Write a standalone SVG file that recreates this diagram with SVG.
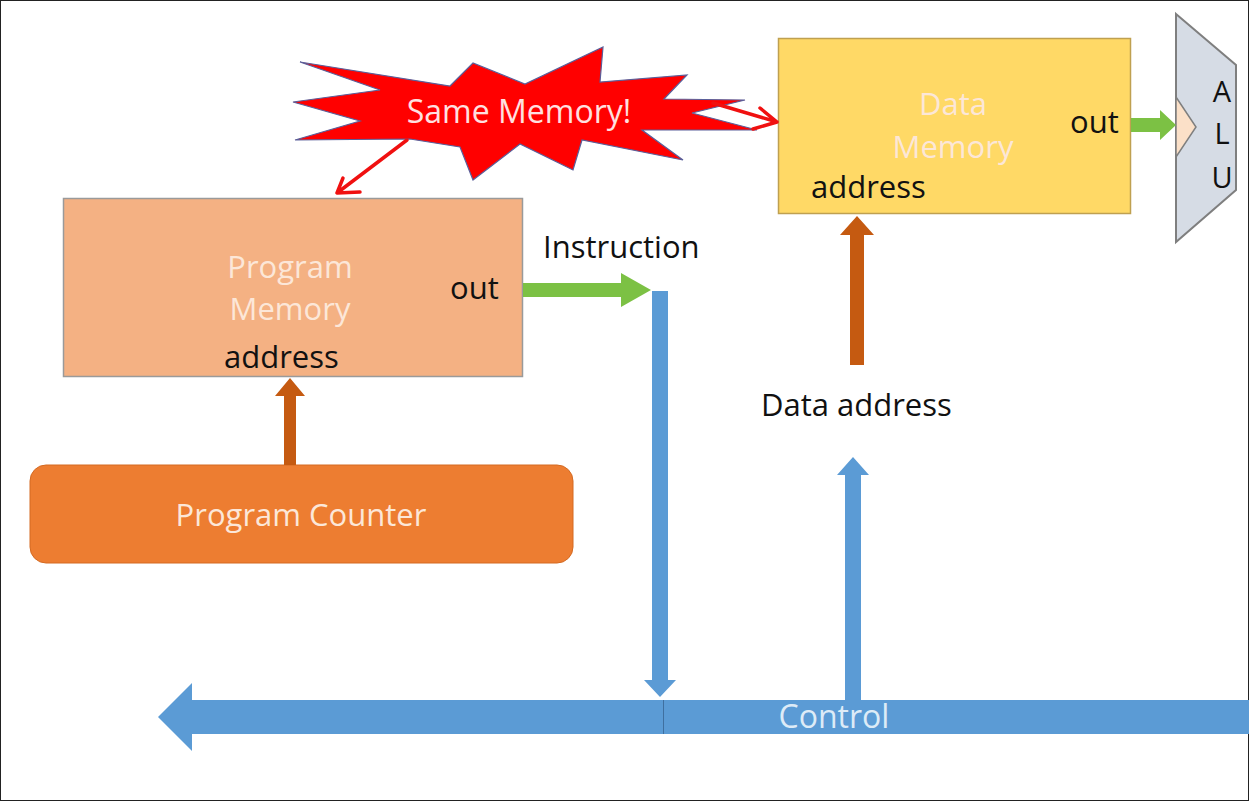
<svg xmlns="http://www.w3.org/2000/svg" width="1249" height="801" viewBox="0 0 1249 801">
  <style>
    text { font-family: "Open Sans", "Noto Sans", "Liberation Sans", sans-serif; }
    .lbl { font-size: 31px; fill: #111111; }
    .inner { font-size: 31px; fill: #FCE7D8; text-anchor: middle; }
    .blue { fill: #5B9BD5; }
    .brown { fill: #C55A11; }
    .green { fill: #7CC144; }
    .red { stroke: #F01010; stroke-width: 3.5; fill: none; stroke-linecap: round; stroke-linejoin: round; }
  </style>

  <rect x="0" y="0" width="1249" height="801" fill="#ffffff"/>
  <rect x="0.5" y="0.5" width="1248" height="800" fill="none" stroke="#222" stroke-width="1"/>

  <!-- Same Memory! burst -->
  <g id="same-memory">
    <polygon points="300,62 450,86 473,63 525,84 603,47 600,82 687,75 664,99 745,100 692,113 757,130 642,130 683,160 582,140 573,170 520,144 473,180 460,147 410,139 295,140 360,121 293,102 380,90"
             fill="#FF0000" stroke="#5a5f9a" stroke-width="1.2" stroke-linejoin="miter"/>
    <text x="519" y="123" font-size="32" fill="#FFE0E0" text-anchor="middle">Same Memory!</text>
  </g>

  <!-- Program Memory -->
  <g id="program-memory">
    <rect x="63.5" y="198.5" width="459" height="178" fill="#F4B183" stroke="#9a9a9a" stroke-width="1.5"/>
    <text class="inner" x="290" y="278">Program</text>
    <text class="inner" x="290" y="320">Memory</text>
    <text class="lbl" x="224" y="368">address</text>
    <text class="lbl" x="450" y="299">out</text>
  </g>

  <!-- Program Counter -->
  <g id="program-counter">
    <rect x="30" y="465" width="543" height="98" rx="16" fill="#ED7D31" stroke="#d46a22" stroke-width="1"/>
    <text class="inner" x="301" y="526">Program Counter</text>
  </g>

  <!-- Data Memory -->
  <g id="data-memory">
    <rect x="778.5" y="38.5" width="352" height="175" fill="#FFD966" stroke="#BFA050" stroke-width="1.5"/>
    <text class="inner" x="953" y="115">Data</text>
    <text class="inner" x="953" y="158">Memory</text>
    <text class="lbl" x="811" y="198">address</text>
    <text class="lbl" x="1070" y="133">out</text>
  </g>

  <!-- ALU -->
  <g id="alu">
    <polygon points="1176,14 1236,65 1236,190 1176,242" fill="#D6DCE5" stroke="#7f7f7f" stroke-width="2"/>
    <polygon points="1176,97 1196,127 1176,157" fill="#FBE0C8" stroke="#7f7f7f" stroke-width="1.5"/>
    <text x="1222" y="102" font-size="29" fill="#111" text-anchor="middle">A</text>
    <text x="1222" y="144" font-size="29" fill="#111" text-anchor="middle">L</text>
    <text x="1222" y="188" font-size="29" fill="#111" text-anchor="middle">U</text>
  </g>

  <!-- Free labels -->
  <g id="labels">
    <text class="lbl" x="543" y="258">Instruction</text>
    <text class="lbl" x="761" y="416">Data address</text>
  </g>

  <!-- Control bus -->
  <g id="control-bus">
    <polygon class="blue" points="158,717 192,683 192,700 1249,700 1249,734 192,734 192,751"/>
    <line x1="663.5" y1="700" x2="663.5" y2="734" stroke="#3f6f9f" stroke-width="1"/>
    <text x="834" y="728" font-size="32" fill="#DDEBF7" text-anchor="middle">Control</text>
  </g>

  <!-- Connectors -->
  <g id="connectors">
    <!-- Program Counter to Program Memory address -->
    <polygon class="brown" points="284,465 284,396 275,396 290,378 305,396 296,396 296,465"/>
    <!-- Program Memory out (Instruction) -->
    <polygon class="green" points="523,283 621,283 621,273 651,290 621,307 621,297 523,297"/>
    <!-- Instruction down to control bus -->
    <polygon class="blue" points="652,291 668,291 668,680 676,680 660,697 644,680 652,680"/>
    <!-- Control bus up (data address) -->
    <polygon class="blue" points="845,700 845,475 837,475 853,457 869,475 861,475 861,700"/>
    <!-- Data address into Data Memory -->
    <polygon class="brown" points="850,365 850,235 840,235 857,216 874,235 864,235 864,365"/>
    <!-- Data Memory out to ALU -->
    <polygon class="green" points="1131,118 1160,118 1160,110 1176,125 1160,140 1160,132 1131,132"/>
    <!-- Same memory pointers -->
    <path class="red" d="M407,140 L337,193 M343,178 L337,193 L360,192"/>
    <path class="red" d="M713,103 L777,122 M760,108 L777,122 L753,129"/>
  </g>
</svg>
